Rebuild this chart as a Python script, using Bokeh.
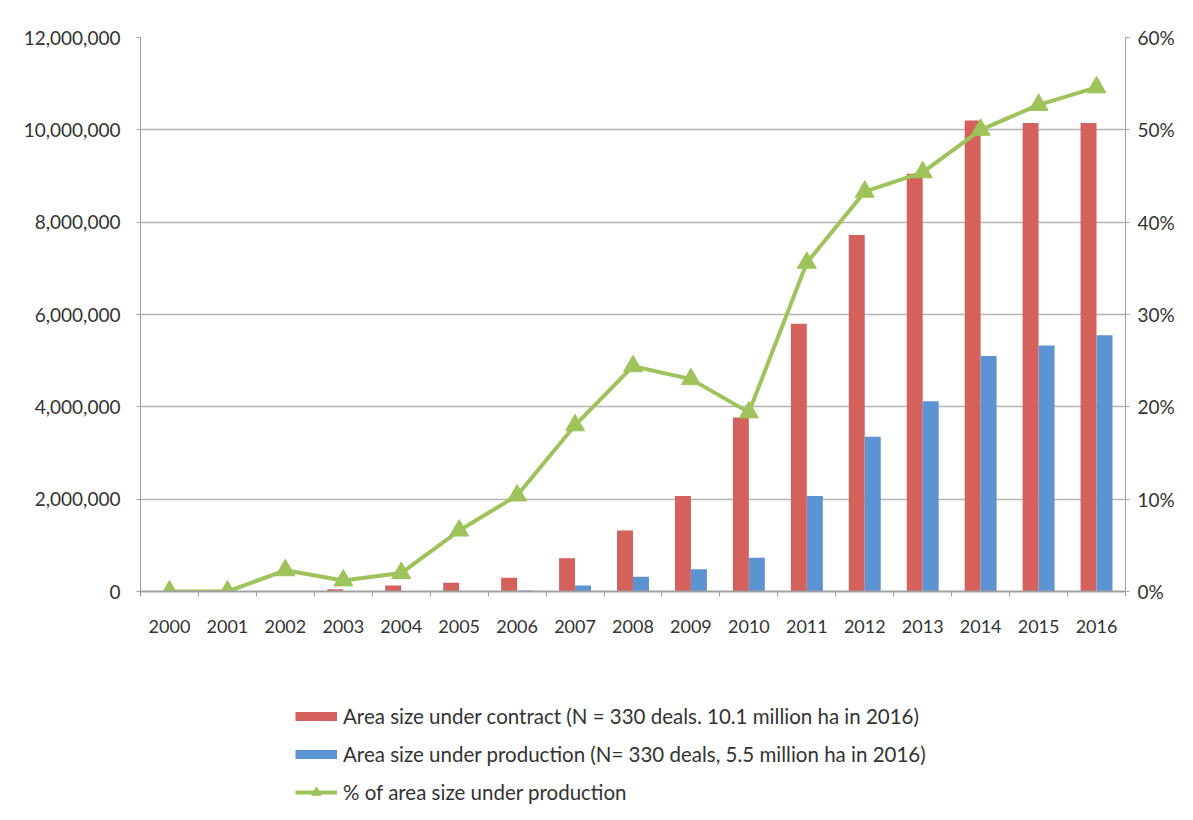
import numpy as np
from bokeh.plotting import figure
from bokeh.layouts import column
from bokeh.models import (Range1d, LinearAxis, FixedTicker, NumeralTickFormatter,
                          Legend, LegendItem, ColumnDataSource, CustomJSTickFormatter)
from bokeh.embed import file_html
from bokeh.resources import INLINE

years = ["2000", "2001", "2002", "2003", "2004", "2005", "2006", "2007", "2008",
         "2009", "2010", "2011", "2012", "2013", "2014", "2015", "2016"]
contract = [0, 0, 10000, 50000, 130000, 190000, 300000, 720000, 1320000,
            2070000, 3770000, 5800000, 7720000, 9050000, 10200000, 10150000, 10150000]
production = [0, 0, 0, 0, 0, 0, 20000, 130000, 320000,
              480000, 730000, 2070000, 3350000, 4120000, 5100000, 5330000, 5550000]
pct = [0, 0, 2.3, 1.2, 2.0, 6.6, 10.4, 18.0, 24.4,
       23.0, 19.4, 35.6, 43.3, 45.4, 50.0, 52.7, 54.6]

label_contract = "Area size under contract (N = 330 deals. 10.1 million ha in 2016)"
label_production = "Area size under production (N= 330 deals, 5.5 million ha in 2016)"
label_pct = "% of area size under production"

RED = "#D4615B"
BLUE = "#5B93D3"
GREEN = "#9DC35A"
GRID = "#B4B4B4"
AX = "#A0A0A0"
TXT = "#333333"
FONT = "Lato"

n = len(years)
xc = np.arange(n) + 0.5
src = ColumnDataSource(dict(
    xr=xc - 0.138, xb=xc + 0.138, x=xc,
    contract=contract, production=production, pct=pct))

W = 1177
H_MAIN = 680
H_LEG = 124

p = figure(width=W, height=H_MAIN, output_backend="svg", toolbar_location=None,
           x_range=Range1d(0, n), y_range=Range1d(0, 12000000),
           min_border_left=140, min_border_right=45, min_border_top=37,
           min_border_bottom=89)
p.extra_y_ranges = {"pct": Range1d(0, 60)}
p.outline_line_color = None
p.background_fill_color = "white"
p.border_fill_color = "white"

r1 = p.vbar(x="xr", top="contract", width=0.275, source=src, color=RED, line_color=None)
r2 = p.vbar(x="xb", top="production", width=0.275, source=src, color=BLUE, line_color=None)
r3 = p.line(x="x", y="pct", source=src, y_range_name="pct", line_color=GREEN, line_width=4)
r4 = p.scatter(x="x", y="pct", source=src, y_range_name="pct", marker="triangle",
               size=19, fill_color=GREEN, line_color=GREEN)

# x axis
xa = p.xaxis[0]
xa.ticker = FixedTicker(ticks=list(xc), minor_ticks=list(range(n + 1)))
xa.major_label_overrides = {float(x): y for x, y in zip(xc, years)}
xa.major_tick_out = 0
xa.major_tick_in = 0
xa.minor_tick_out = 5
xa.minor_tick_in = 0
xa.minor_tick_line_color = AX
xa.axis_line_color = AX
xa.axis_line_width = 2
xa.major_label_standoff = 23
xa.major_label_text_font = FONT
xa.major_label_text_font_size = "18px"
xa.major_label_text_color = TXT

# left axis
ya = p.yaxis[0]
ya.ticker = FixedTicker(ticks=list(range(0, 12000001, 2000000)))
ya.formatter = NumeralTickFormatter(format="0,0")
ya.major_tick_out = 4
ya.major_tick_in = 0
ya.minor_tick_out = 0
ya.minor_tick_in = 0
ya.axis_line_color = AX
ya.major_tick_line_color = AX
ya.major_label_standoff = 16
ya.major_label_text_font = FONT
ya.major_label_text_font_size = "19px"
ya.major_label_text_color = TXT

# right axis
ra = LinearAxis(y_range_name="pct", ticker=FixedTicker(ticks=list(range(0, 61, 10))),
                formatter=CustomJSTickFormatter(code="return tick.toFixed(0) + '%';"))
ra.major_tick_out = 4
ra.major_tick_in = 0
ra.minor_tick_out = 0
ra.minor_tick_in = 0
ra.axis_line_color = AX
ra.major_tick_line_color = AX
ra.major_label_standoff = 8
ra.major_label_text_font = FONT
ra.major_label_text_font_size = "19px"
ra.major_label_text_color = TXT
p.add_layout(ra, "right")

p.xgrid.grid_line_color = None
p.ygrid.grid_line_color = GRID
p.ygrid.grid_line_width = 1.5

# legend panel (second figure below the chart; swatches styled like the chart glyphs)
lf = figure(width=W, height=H_LEG, output_backend="svg", toolbar_location=None,
            x_range=Range1d(0, 1), y_range=Range1d(0, 1),
            min_border_left=0, min_border_right=0, min_border_top=0, min_border_bottom=0)
lf.axis.visible = False
lf.grid.visible = False
lf.outline_line_color = None
lf.border_fill_color = "white"
off = ColumnDataSource(dict(x=[-5, -4], y=[-5, -4]))
l1 = lf.line(x="x", y="y", source=off, line_color=RED, line_width=9, line_cap="butt")
l2 = lf.line(x="x", y="y", source=off, line_color=BLUE, line_width=9, line_cap="butt")
l3 = lf.line(x="x", y="y", source=off, line_color=GREEN, line_width=4)
l4 = lf.scatter(x="x", y="y", source=off, marker="triangle", size=14,
                fill_color=GREEN, line_color=GREEN)

legend = Legend(items=[
    LegendItem(label=label_contract, renderers=[l1]),
    LegendItem(label=label_production, renderers=[l2]),
    LegendItem(label=label_pct, renderers=[l3, l4]),
], location=(155, 0))
legend.border_line_color = None
legend.background_fill_alpha = 0
legend.padding = 0
legend.margin = 0
legend.spacing = 14
legend.glyph_width = 42
legend.glyph_height = 24
legend.label_height = 24
legend.label_standoff = 6
legend.label_text_font = FONT
legend.label_text_font_size = "20.5px"
legend.label_text_color = TXT
lf.add_layout(legend)

layout = column(p, lf, spacing=0)
open("out.html", "w").write(file_html(layout, INLINE))
